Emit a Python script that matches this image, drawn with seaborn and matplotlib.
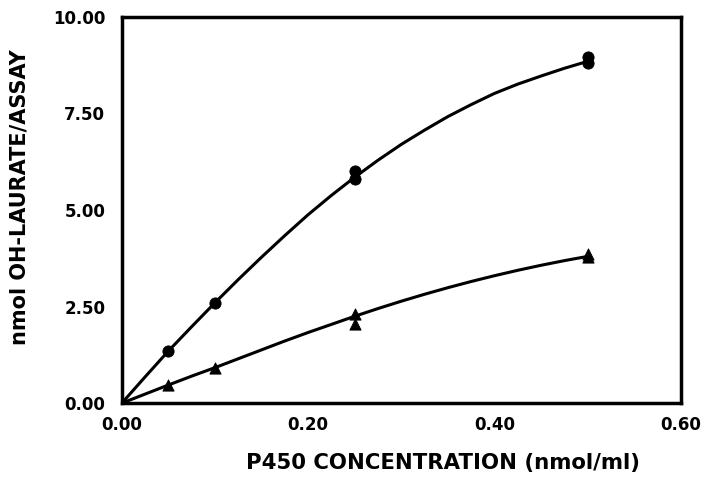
import numpy as np
import pandas as pd
import matplotlib
matplotlib.use("Agg")
import matplotlib.pyplot as plt
import seaborn as sns

# measured points
circ_x = [0.05, 0.10, 0.25, 0.25, 0.50, 0.50]
circ_y = [1.35, 2.60, 5.80, 6.00, 8.80, 8.95]
tri_x = [0.05, 0.10, 0.25, 0.25, 0.50, 0.50]
tri_y = [0.48, 0.90, 2.05, 2.32, 3.78, 3.85]

# fitted curves
fit_x = [0.0, 0.025, 0.05, 0.075, 0.10, 0.125, 0.15, 0.175, 0.20, 0.225, 0.25,
         0.275, 0.30, 0.325, 0.35, 0.375, 0.40, 0.425, 0.45, 0.475, 0.50]
fit_circ = [0.0, 0.68, 1.35, 1.98, 2.60, 3.20, 3.78, 4.34, 4.88, 5.38, 5.85,
            6.29, 6.70, 7.07, 7.42, 7.73, 8.02, 8.26, 8.47, 8.67, 8.85]
fit_tri = [0.0, 0.235, 0.47, 0.70, 0.92, 1.15, 1.38, 1.61, 1.83, 2.04, 2.25,
           2.45, 2.64, 2.82, 2.99, 3.15, 3.30, 3.44, 3.57, 3.69, 3.80]

xticks = [0.0, 0.2, 0.4, 0.6]
yticks = [0.0, 2.5, 5.0, 7.5, 10.0]

sns.set_theme(style="white")
plt.rcParams['font.family'] = ['DejaVu Sans']
plt.rcParams['font.weight'] = 'bold'
plt.rcParams['text.color'] = 'black'
plt.rcParams['axes.labelcolor'] = 'black'
plt.rcParams['xtick.color'] = 'black'
plt.rcParams['ytick.color'] = 'black'

fig = plt.figure(figsize=(7.04, 4.84), dpi=100)
ax = fig.add_axes([0.173, 0.167, 0.794, 0.798])

sns.lineplot(x=fit_x, y=fit_circ, ax=ax, color='black', linewidth=2.2)
sns.lineplot(x=fit_x, y=fit_tri, ax=ax, color='black', linewidth=2.2)
sns.scatterplot(x=circ_x, y=circ_y, ax=ax, marker='o', color='black', s=65, edgecolor='black', zorder=3)
sns.scatterplot(x=tri_x, y=tri_y, ax=ax, marker='^', color='black', s=65, edgecolor='black', zorder=3)

ax.set_xlim(0, 0.6)
ax.set_ylim(0, 10)
ax.set_xticks(xticks)
ax.set_yticks(yticks)
ax.set_xticklabels([f"{v:.2f}" for v in xticks], fontsize=12, fontweight='bold')
ax.set_yticklabels([f"{v:.2f}" for v in yticks], fontsize=12, fontweight='bold')
ax.tick_params(direction='in', length=5, width=1.5, color='black')
ax.tick_params(axis='y', pad=12)
ax.tick_params(axis='x', pad=9)
for sp in ax.spines.values():
    sp.set_linewidth(2.5)
    sp.set_color('black')

ax.set_xlabel("P450 CONCENTRATION (nmol/ml)", fontsize=15.3, fontweight='bold')
ax.set_ylabel("nmol OH-LAURATE/ASSAY", fontsize=15, fontweight='bold')
ax.xaxis.set_label_coords(0.574, -0.129)
ax.yaxis.set_label_coords(-0.166, 0.534)

fig.savefig("out.png", dpi=100)
